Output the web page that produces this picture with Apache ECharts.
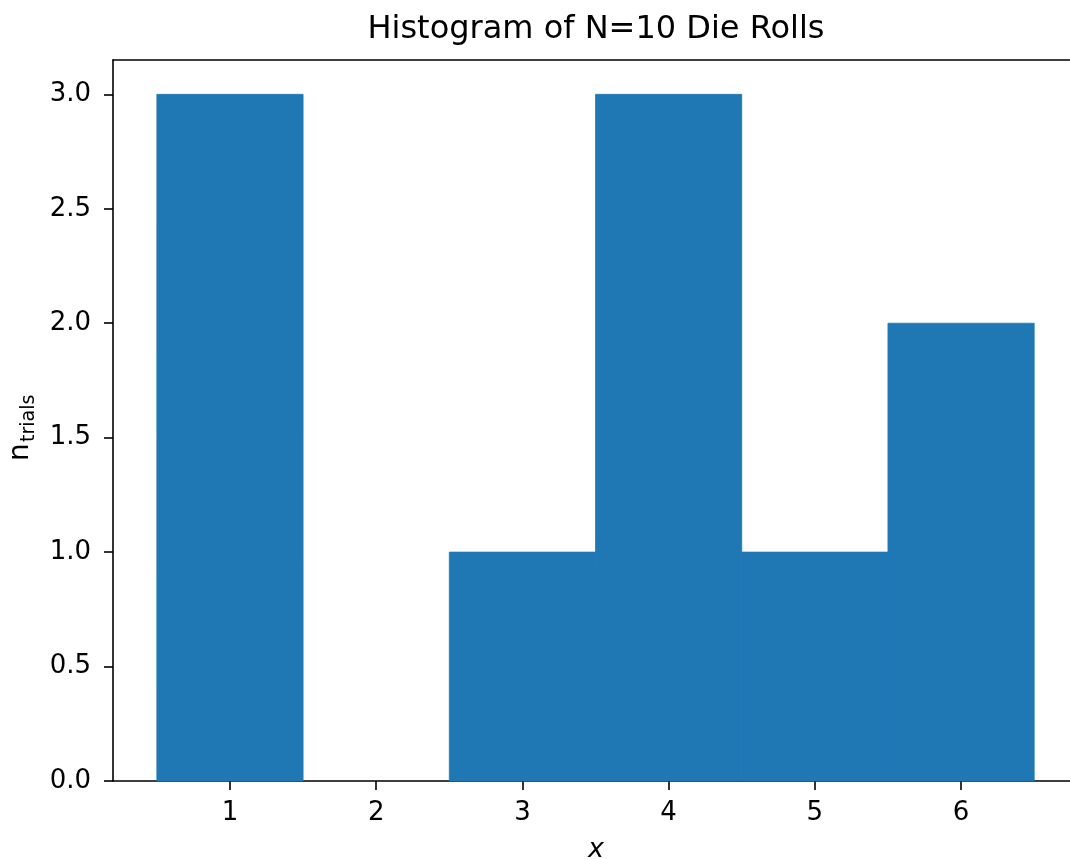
<!DOCTYPE html>
<html><head><meta charset="utf-8">
<script src="https://cdn.jsdelivr.net/npm/echarts@6/dist/echarts.min.js"></script>
<style>html,body{margin:0;padding:0;background:#fff;overflow:hidden}#c{width:1070px;height:859px}</style>
</head><body><div id="c"></div>
<script>
const binCenters = [1, 2, 3, 4, 5, 6];
const counts = [3, 0, 1, 3, 1, 2];
const binWidth = 1;
const xTicks = [1, 2, 3, 4, 5, 6];
const yTicks = [0, 0.5, 1.0, 1.5, 2.0, 2.5, 3.0];
const titleText = 'Histogram of N=10 Die Rolls';

const FONT = 'DejaVu Sans';
const X_MIN = 0.2, X_MAX = 6.745;
const data = binCenters.map((c, i) => [c - binWidth / 2, c + binWidth / 2, counts[i]]);
const chart = echarts.init(document.getElementById('c'), null, {renderer: 'canvas'});
const spine = {color: '#000', width: 1.6};
chart.setOption({
  animation: false,
  backgroundColor: '#fff',
  grid: {left: 113, right: 0, top: 60, bottom: 78, show: false},
  xAxis: [{
    type: 'value', min: X_MIN, max: X_MAX, position: 'bottom',
    axisLine: {show: true, onZero: false, lineStyle: spine},
    axisTick: {show: true, length: 9, customValues: xTicks, lineStyle: spine},
    axisLabel: {customValues: xTicks, color: '#000', fontFamily: FONT, fontSize: 26, margin: 19},
    splitLine: {show: false}
  }, {
    type: 'value', min: X_MIN, max: X_MAX, position: 'top',
    axisLine: {show: true, onZero: false, lineStyle: spine},
    axisTick: {show: false}, axisLabel: {show: false}, splitLine: {show: false}
  }],
  yAxis: {
    type: 'value', min: 0, max: 3.15,
    axisLine: {show: true, onZero: false, lineStyle: spine},
    axisTick: {show: true, length: 9, customValues: yTicks, lineStyle: spine},
    axisLabel: {customValues: yTicks, color: '#000', fontFamily: FONT, fontSize: 26, margin: 22, formatter: v => v.toFixed(1)},
    splitLine: {show: false}
  },
  series: [{
    type: 'custom',
    xAxisIndex: 0,
    data: data,
    encode: {x: [0, 1], y: 2},
    z: 1,
    renderItem: function (params, api) {
      const p0 = api.coord([api.value(0), api.value(2)]);
      const p1 = api.coord([api.value(1), 0]);
      const h = p1[1] - p0[1];
      if (h <= 0) return null;
      return {type: 'rect', shape: {x: p0[0], y: p0[1], width: p1[0] - p0[0], height: h},
        style: {fill: '#1f77b4', stroke: '#1f77b4', lineWidth: 0.8}};
    }
  }],
  graphic: [
    {type: 'text', x: 596, y: 30, style: {text: titleText, fontFamily: FONT, fontSize: 32, fill: '#000', textAlign: 'center', textVerticalAlign: 'middle'}},
    {type: 'text', x: 596, y: 850, style: {text: 'x', fontFamily: FONT, fontStyle: 'italic', fontSize: 27, fill: '#000', textAlign: 'center', textVerticalAlign: 'middle'}},
    {type: 'group', x: 21, y: 461, rotation: Math.PI / 2, children: [
      {type: 'text', x: 0, y: 0, style: {text: 'n', fontFamily: FONT, fontSize: 28, fill: '#000', textAlign: 'left', textVerticalAlign: 'middle'}},
      {type: 'text', x: 19, y: 8, style: {text: 'trials', fontFamily: FONT, fontSize: 19, fill: '#000', textAlign: 'left', textVerticalAlign: 'middle'}}
    ]}
  ]
});
</script></body></html>
